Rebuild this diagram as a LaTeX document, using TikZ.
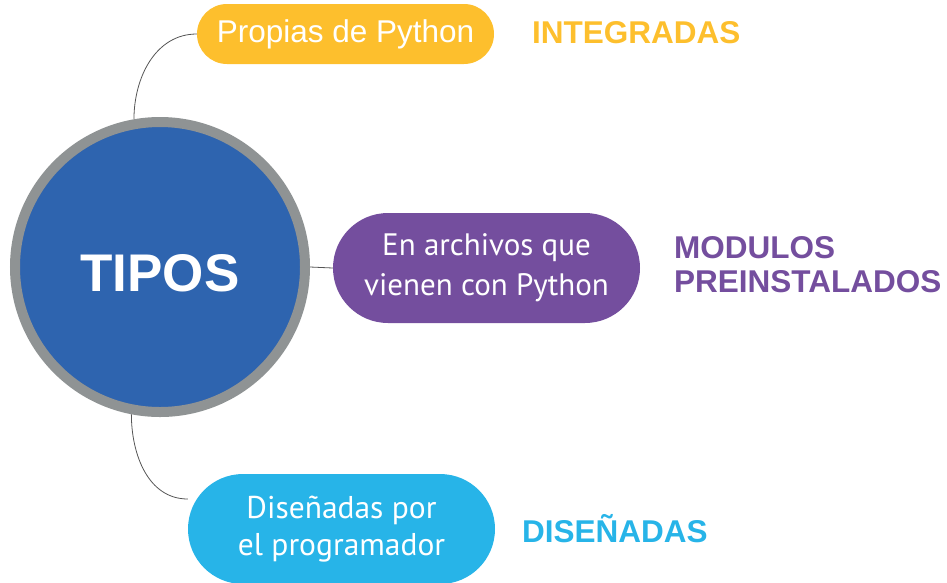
\documentclass[tikz,border=0pt]{standalone}
\usepackage{fontspec}
\setmainfont{Liberation Sans}
\newfontfamily\myriadlike{PT Sans}
\usetikzlibrary{backgrounds}

\definecolor{tipoblue}{HTML}{2E64AF}
\definecolor{ringgray}{HTML}{8F9394}
\definecolor{integyellow}{HTML}{FDBF2D}
\definecolor{modpurple}{HTML}{744E9E}
\definecolor{disecyan}{HTML}{27B4E8}
\definecolor{linkgray}{HTML}{555555}

\tikzset{
  pill/.style={rectangle, fill=#1, text=white, inner sep=0pt},
  tipolabel/.style={anchor=base west, text=#1, font=\fontsize{31.5}{34}\selectfont\bfseries, inner sep=0pt, align=left},
  link/.style={draw=linkgray, line width=0.8pt}
}

\begin{document}
\begin{tikzpicture}[x=1pt,y=-1pt]

      \useasboundingbox (0,0) rectangle (947,582);

      % centre
      \node[circle, fill=tipoblue, draw=ringgray, line width=10pt, minimum size=290pt,
            text=white, text height=49pt, text depth=0pt,
            font=\fontsize{53}{60}\selectfont\bfseries] (tipos) at (160,267) {TIPOS};

      % branches
      \node[pill=integyellow, minimum width=297pt, minimum height=60pt, rounded corners=30pt,
            font=\fontsize{31.5}{36}\selectfont] (integ) at (345.5,34) {Propias de Python};
      \node[pill=modpurple, minimum width=307pt, minimum height=110pt, rounded corners=55pt,
            align=center, font=\myriadlike\fontsize{31}{40}\selectfont] (modul) at (486.5,268)
            {En archivos que\\vienen con Python};
      \node[pill=disecyan, minimum width=307pt, minimum height=110pt, rounded corners=55pt,
            align=center, font=\myriadlike\fontsize{31.5}{37}\selectfont] (dise) at (341.5,529)
            {Diseñadas por\\el programador};

      % labels
      \node[tipolabel=integyellow] (integlbl) at (532,43) {INTEGRADAS};
      \node[tipolabel=modpurple] (modullbl) at (674,292) {MODULOS\\PREINSTALADOS};
      \node[tipolabel=disecyan] (diselbl) at (522,542) {DISEÑADAS};

      % connectors
      \begin{pgfonlayer}{background}
        \draw[link] (tipos.100) to[out=90, in=180] (integ.west);
        \draw[link] (tipos.east) -- (modul.west);
        \draw[link] (tipos.259) to[out=-90, in=180] ([yshift=30pt]dise.west);
      \end{pgfonlayer}

    \end{tikzpicture}
\end{document}
